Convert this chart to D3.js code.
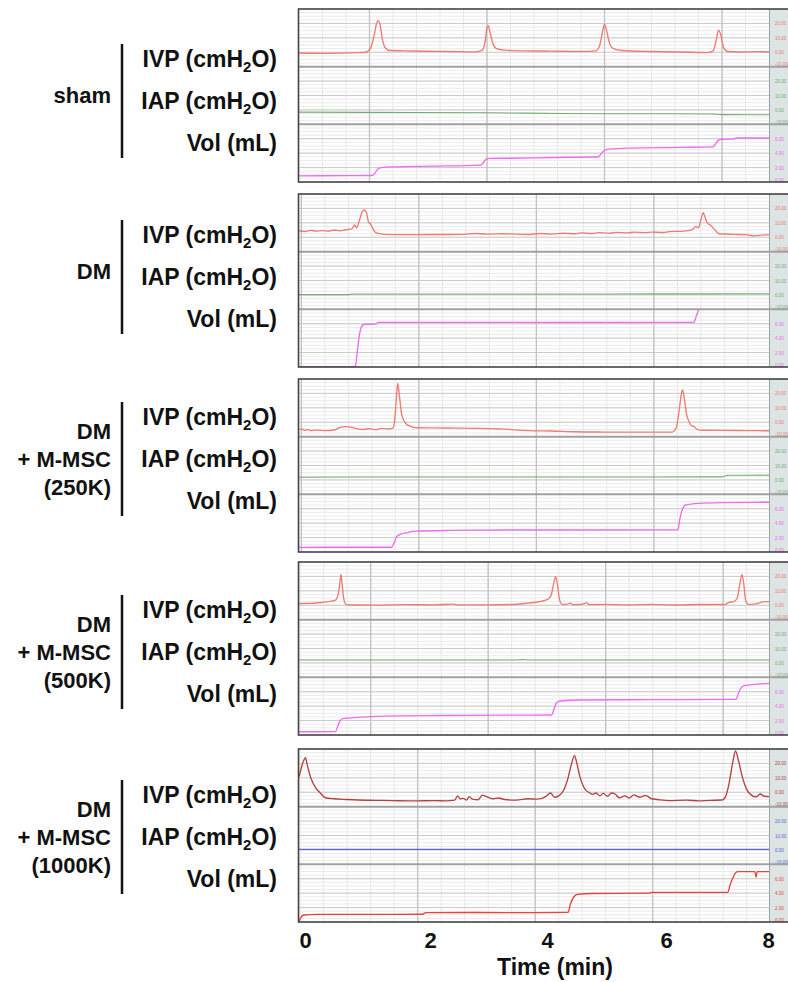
<!DOCTYPE html>
<html>
<head>
<meta charset="utf-8">
<script src="https://cdn.jsdelivr.net/npm/d3@7"></script>
<style>
  body { margin: 0; background: #fff; }
  svg { display: block; font-family: "Liberation Sans", Arial, sans-serif; }
</style>
</head>
<body>
<div id="chart-area"></div>
<script>
// ---- data: [time (min), value] ----
const groups = [["sham"], ["DM"], ["DM", "+ M-MSC", "(250K)"], ["DM", "+ M-MSC", "(500K)"], ["DM", "+ M-MSC", "(1000K)"]]
const timeTicks = [0, 2, 4, 6, 8]

const shamIVP = [[0,-0.5],[0.5,-0.8],[1.0,-0.3],[1.15,0.2],[1.22,3],[1.28,12],[1.32,20],[1.35,21.9],[1.38,19],[1.42,9],[1.47,3],[1.55,1.2],[1.8,1],[2.2,0.7],[2.6,0.5],[3.0,0.3],[3.12,1.5],[3.17,8],[3.2,17],[3.22,18.5],[3.25,14],[3.3,6],[3.36,2.5],[3.5,1.5],[3.8,1],[4.3,0.8],[4.8,0.6],[5.05,1],[5.12,5],[5.17,15],[5.2,19.4],[5.23,16],[5.28,7],[5.35,2.5],[5.5,1.2],[6,0.5],[6.5,0.2],[6.95,-0.3],[7.05,1],[7.1,8],[7.14,15.3],[7.18,12],[7.23,3],[7.3,0.5],[7.5,0.2],[7.8,0.4],[8,0.2]]
const shamIAP = [[0,-1.5],[1.2,-1.7],[3.3,-2.0],[4.5,-2.5],[7.0,-2.8],[7.2,-3.3],[8,-3.4]]
const shamVol = [[0,0.85],[0.8,0.88],[1.25,0.9],[1.3,1.3],[1.34,1.8],[1.4,2.0],[1.6,2.1],[2.2,2.2],[3.1,2.35],[3.13,2.6],[3.18,3.1],[3.25,3.27],[3.6,3.3],[4.3,3.4],[5.1,3.5],[5.14,3.9],[5.2,4.4],[5.28,4.55],[5.6,4.7],[6.5,4.8],[7.05,4.87],[7.09,5.3],[7.14,5.8],[7.2,5.93],[7.38,5.95],[7.45,6.11],[8,6.11]]

const dmIVP = [[0,4.5],[0.1,4.0],[0.2,4.8],[0.3,4.2],[0.4,4.6],[0.5,4.3],[0.6,5.0],[0.7,4.5],[0.8,5.2],[0.9,5.8],[0.95,8.5],[0.98,6.5],[1.03,12],[1.08,18],[1.11,18.9],[1.15,17],[1.18,11],[1.22,9],[1.27,5],[1.33,2.8],[1.45,2.0],[1.8,1.8],[2.3,1.9],[2.8,2.0],[3.0,2.6],[3.2,2.2],[3.5,2.4],[3.9,1.9],[4.1,2.6],[4.3,2.2],[4.5,2.8],[4.7,2.4],[4.8,3.0],[5.0,2.6],[5.1,3.2],[5.3,2.8],[5.4,3.4],[5.6,3.0],[5.7,3.6],[5.9,3.2],[6.0,3.6],[6.2,3.3],[6.3,3.9],[6.55,4.2],[6.7,5.5],[6.76,7.5],[6.8,6.5],[6.84,12],[6.88,17],[6.91,14],[6.95,10],[7.0,8.5],[7.08,5],[7.15,2.4],[7.4,2.0],[7.6,1.8],[7.75,1.0],[7.9,1.6],[8,1.8]]
const dmIAP = [[0,0.2],[0.85,0.2],[0.9,0.6],[3,0.6],[6,0.7],[8,0.8]]
const dmVol = [[0,0.05],[0.9,0.05],[0.96,0.1],[0.99,2],[1.02,4],[1.06,5.5],[1.1,5.9],[1.3,5.95],[1.35,6.2],[2.0,6.2],[4.5,6.18],[6.72,6.2],[6.76,7.0],[6.8,7.9]]

const m250IVP = [[0,-5.2],[0.05,-4.6],[0.1,-5.6],[0.15,-5.0],[0.2,-5.8],[0.3,-5.5],[0.45,-5.8],[0.6,-5.4],[0.7,-3.6],[0.8,-3.0],[0.9,-3.5],[1.0,-4.6],[1.1,-5.0],[1.2,-4.4],[1.3,-5.2],[1.4,-4.3],[1.52,-4.6],[1.6,-4.0],[1.63,2],[1.66,18],[1.68,27],[1.71,18],[1.75,5],[1.82,-1],[1.9,-2.8],[2.0,-3.8],[2.5,-4.0],[3.0,-4.2],[3.3,-4.4],[3.9,-5.8],[4.3,-6.1],[4.7,-6.6],[5.2,-6.8],[5.8,-6.9],[6.35,-6.8],[6.42,-4],[6.47,8],[6.51,20],[6.53,22.4],[6.56,16],[6.6,5],[6.64,0.4],[6.68,-2.5],[6.72,-2.8],[6.76,-4.5],[6.83,-5.5],[7.2,-5.6],[7.6,-5.8],[8,-5.9]]
const m250IAP = [[0,1.9],[2,2.0],[5,2.0],[7.2,2.1],[7.3,3.2],[8,3.3]]
const m250Vol = [[0,0.65],[0.8,0.66],[1.58,0.66],[1.62,1.3],[1.66,2.1],[1.72,2.45],[1.85,2.7],[2.0,2.9],[2.6,3.0],[3.5,3.05],[5.0,3.05],[6.45,3.07],[6.48,4.5],[6.53,6.0],[6.58,6.52],[6.8,6.75],[7.2,6.85],[8,6.9]]

const m500IVP = [[0,1.2],[0.2,1.3],[0.4,2.0],[0.55,2.8],[0.62,3.5],[0.67,8],[0.7,17],[0.715,21.4],[0.73,16],[0.76,5],[0.8,0.6],[0.9,0.2],[1.3,0.1],[1.8,0.4],[2.3,0.3],[2.6,0.8],[2.7,0.3],[3.2,0.3],[3.6,0.5],[3.9,1.5],[4.1,2.5],[4.25,4.5],[4.3,8],[4.34,16],[4.37,19.8],[4.4,14],[4.43,5],[4.47,0.8],[4.55,0.6],[4.62,1.5],[4.66,0.4],[4.8,0.5],[4.9,1.6],[4.94,0.4],[5.2,0.6],[5.6,0.3],[6.0,0.6],[6.4,0.2],[6.8,0.5],[7.25,0.6],[7.32,2.0],[7.4,2.5],[7.46,5],[7.5,14],[7.54,21.4],[7.57,15],[7.6,4],[7.64,0.8],[7.7,0.6],[7.8,1.2],[7.9,2.3],[8,2.5]]
const m500IAP = [[0,2.0],[3.7,2.0],[3.8,2.3],[3.9,2.0],[8,2.0]]
const m500Vol = [[0,0.45],[0.62,0.47],[0.66,1.2],[0.7,2.0],[0.76,2.3],[1.0,2.45],[1.7,2.65],[2.5,2.7],[3.5,2.75],[4.3,2.78],[4.34,3.6],[4.38,4.4],[4.44,4.72],[4.8,4.85],[6.0,4.9],[7.44,4.95],[7.48,5.8],[7.53,6.6],[7.58,6.84],[8,7.17]]

const m1000IVP = [[0,10.8],[0.04,17],[0.08,22],[0.11,24],[0.14,19],[0.2,10],[0.29,2.7],[0.35,0],[0.45,-3.8],[0.6,-4.5],[0.8,-5.0],[1.0,-5.4],[1.3,-5.6],[1.6,-5.8],[2.0,-6.0],[2.3,-5.8],[2.5,-6.0],[2.65,-5.5],[2.7,-2.5],[2.74,-4.5],[2.8,-4.3],[2.85,-5.5],[2.9,-3.0],[2.95,-4.8],[3.05,-5.2],[3.12,-2.0],[3.18,-2.8],[3.3,-4.5],[3.4,-4.0],[3.5,-5.0],[3.7,-5.5],[3.9,-4.5],[4.05,-4.8],[4.2,-3.0],[4.28,-0.5],[4.35,-3.5],[4.42,-2.5],[4.5,1],[4.58,10],[4.64,20],[4.69,25.4],[4.73,20],[4.78,11],[4.83,5],[4.88,1.5],[4.94,-0.2],[5.0,-1.5],[5.06,-0.5],[5.12,-2.5],[5.18,-0.8],[5.25,-2.8],[5.32,-0.5],[5.38,-1.2],[5.45,-3.8],[5.55,-2.5],[5.62,-4.0],[5.7,-1.8],[5.8,-3.5],[5.9,-2.2],[6.0,-4.5],[6.1,-5.0],[6.3,-5.8],[6.6,-5.5],[6.8,-6.0],[7.0,-5.6],[7.2,-5.4],[7.26,-3],[7.32,6],[7.38,20],[7.43,28.6],[7.48,22],[7.55,10],[7.62,2],[7.7,-2],[7.78,-3.2],[7.85,-1.2],[7.92,-2.8],[8,-3.0]]
const m1000IAP = [[0,0.4],[8,0.4]]
const m1000Vol = [[0,0.05],[0.03,0.6],[0.08,0.97],[0.3,1.05],[1.0,1.06],[2.1,1.08],[2.16,1.3],[3.0,1.32],[4.0,1.3],[4.58,1.33],[4.62,2.5],[4.68,3.5],[4.74,3.84],[5.0,3.95],[5.95,4.0],[6.0,4.1],[7.3,4.12],[7.34,5.2],[7.38,6.0],[7.42,6.7],[7.47,6.98],[7.76,6.98],[7.78,6.2],[7.8,6.98],[8,6.98]]

// first major vertical gridline of each recording (min)
const gridStart = [1.2, 0.04, 0.04, 1.22, 0.02]

const traces = [
  [shamIVP, shamIAP, shamVol],
  [dmIVP, dmIAP, dmVol],
  [m250IVP, m250IAP, m250Vol],
  [m500IVP, m500IAP, m500Vol],
  [m1000IVP, m1000IAP, m1000Vol]
]

// ---- layout ----
const WIDTH = 788, HEIGHT = 982
const PLOT = { LEFT: 299, RIGHT: 769, EDGE: 788 }
const PANEL_TOP = [9, 194, 379, 562, 749]
const PANEL_H = 173
const SUB_H = PANEL_H / 3
const LABEL_Y = [67, 243, 425, 618, 803]   // baseline of "IVP" label per panel
// the figure's time labels were placed by hand, not exactly on the grid
const TICK_X = [305, 430, 547, 666, 768]

const channels = [
  { name: "IVP", domain: [-10, 30], major: 10, minor: 2.5, ticks: [20, 10, 0, -10] },
  { name: "IAP", domain: [-10, 30], major: 10, minor: 2.5, ticks: [20, 10, 0, -10] },
  { name: "Vol", domain: [0, 8], major: 2, minor: 0.5, ticks: [6, 4, 2, 0] }
]
const normalColors = ["#ef7b72", "#72ad6c", "#ee6bee"]
const lastColors = ["#b5413f", "#5666dd", "#e8443c"]

const svg = d3.select("#chart-area").append("svg")
  .attr("width", WIDTH)
  .attr("height", HEIGHT)

const x = d3.scaleLinear().domain([0, 8]).range([PLOT.LEFT, PLOT.RIGHT])

traces.forEach((panel, i) => {
  const top = PANEL_TOP[i]
  const g = svg.append("g")
  const colors = i === 4 ? lastColors : normalColors

  g.append("clipPath").attr("id", "clip" + i)
    .append("rect")
    .attr("x", PLOT.LEFT).attr("y", top)
    .attr("width", PLOT.RIGHT - PLOT.LEFT).attr("height", PANEL_H)

  // vertical grid
  const minorT = d3.range(gridStart[i] - 2, 8.01, 0.4).filter(t => t > 0 && t < 8)
  const majorT = d3.range(gridStart[i], 8.01, 2).filter(t => t > 0.02 && t < 8)
  g.selectAll(".vminor").data(minorT).enter().append("line")
    .attr("x1", d => x(d)).attr("x2", d => x(d))
    .attr("y1", top).attr("y2", top + PANEL_H)
    .attr("stroke", "#e7e7e7").attr("stroke-width", 1)

  channels.forEach((ch, j) => {
    const subTop = top + j * SUB_H
    const y = d3.scaleLinear().domain(ch.domain).range([subTop + SUB_H, subTop])

    const minorY = d3.range(ch.domain[0] + ch.minor, ch.domain[1], ch.minor)
    g.selectAll(".hminor" + j).data(minorY).enter().append("line")
      .attr("x1", PLOT.LEFT).attr("x2", PLOT.RIGHT)
      .attr("y1", d => y(d)).attr("y2", d => y(d))
      .attr("stroke", "#ebebeb").attr("stroke-width", 1)

    const majorY = ch.ticks.filter(v => v > ch.domain[0])
    g.selectAll(".hmajor" + j).data(majorY).enter().append("line")
      .attr("x1", PLOT.LEFT).attr("x2", PLOT.RIGHT)
      .attr("y1", d => y(d)).attr("y2", d => y(d))
      .attr("stroke", "#cacaca").attr("stroke-width", 1)
  })

  g.selectAll(".vmajor").data(majorT).enter().append("line")
    .attr("x1", d => x(d)).attr("x2", d => x(d))
    .attr("y1", top).attr("y2", top + PANEL_H)
    .attr("stroke", "#c2c2c2").attr("stroke-width", 1.3)

  // traces
  channels.forEach((ch, j) => {
    const subTop = top + j * SUB_H
    const y = d3.scaleLinear().domain(ch.domain).range([subTop + SUB_H, subTop])
    const line = d3.line()
      .x(d => x(d[0]))
      .y(d => y(d[1]))
      .curve(d3.curveMonotoneX)
    g.append("path")
      .datum(panel[j])
      .attr("clip-path", `url(#clip${i})`)
      .attr("fill", "none")
      .attr("stroke", colors[j])
      .attr("stroke-width", j === 1 ? 1.1 : 1.35)
      .attr("d", line)
  })

  // right-hand scale strip
  g.append("rect")
    .attr("x", PLOT.RIGHT).attr("y", top)
    .attr("width", PLOT.EDGE - PLOT.RIGHT).attr("height", PANEL_H)
    .attr("fill", "#dce4e4")
  g.append("line")
    .attr("x1", PLOT.RIGHT + 0.5).attr("x2", PLOT.RIGHT + 0.5)
    .attr("y1", top).attr("y2", top + PANEL_H)
    .attr("stroke", "#9aa2a2")
  channels.forEach((ch, j) => {
    const subTop = top + j * SUB_H
    const y = d3.scaleLinear().domain(ch.domain).range([subTop + SUB_H, subTop])
    g.selectAll(".scale" + j).data(ch.ticks).enter().append("text")
      .attr("x", PLOT.RIGHT + 6)
      .attr("y", d => Math.min(y(d) + 2, subTop + SUB_H - 0.5))
      .attr("font-size", "4.5px")
      .attr("fill", colors[j])
      .text(d => d.toFixed(2))
  })

  // subpanel dividers and frame
  g.selectAll(".div").data([1, 2]).enter().append("line")
    .attr("x1", PLOT.LEFT - 1).attr("x2", PLOT.EDGE)
    .attr("y1", d => top + d * SUB_H).attr("y2", d => top + d * SUB_H)
    .attr("stroke", "#a0a0a0").attr("stroke-width", 2)
  g.append("rect")
    .attr("x", PLOT.LEFT - 0.5).attr("y", top)
    .attr("width", PLOT.EDGE - PLOT.LEFT + 10).attr("height", PANEL_H)
    .attr("fill", "none")
    .attr("stroke", "#444").attr("stroke-width", 1.6)

  // left labels
  const base = LABEL_Y[i]
  const labels = svg.append("g")
    .attr("font-weight", "bold")
    .attr("font-size", "22px")
    .attr("fill", "#111")
  ;[["IVP (cmH", "2", "O)"], ["IAP (cmH", "2", "O)"], ["Vol (mL)"]].forEach((parts, j) => {
    const t = labels.append("text")
      .attr("x", 277).attr("y", base + j * 42)
      .attr("font-size", "23px")
      .attr("text-anchor", "end")
    t.append("tspan").text(parts[0])
    if (parts.length > 1) {
      t.append("tspan").attr("font-size", "15px").attr("dy", 5).text(parts[1])
      t.append("tspan").attr("dy", -5).text(parts[2])
    }
  })
  labels.append("line")
    .attr("x1", 122).attr("x2", 122)
    .attr("y1", base - 23).attr("y2", base + 84 + 7)
    .attr("stroke", "#111").attr("stroke-width", 2.5)
  const lines = groups[i]
  const mid = base + 42
  lines.forEach((txt, k) => {
    labels.append("text")
      .attr("x", 111)
      .attr("y", lines.length === 1 ? mid - 6 : mid + (k - 1) * 28)
      .attr("text-anchor", "end")
      .text(txt)
  })
})

// X Axis
const axisScale = d3.scaleLinear().domain(timeTicks).range(TICK_X)
const xAxisCall = d3.axisBottom(axisScale)
  .tickValues(timeTicks)
  .tickSize(0)
  .tickPadding(10)
  .tickFormat(d3.format("d"))
const xAxis = svg.append("g")
  .attr("transform", `translate(0, ${PANEL_TOP[4] + PANEL_H})`)
  .call(xAxisCall)
xAxis.select(".domain").remove()
xAxis.selectAll("text")
  .attr("font-family", "'Liberation Sans', Arial, sans-serif")
  .attr("font-size", "22px")
  .attr("font-weight", "bold")
  .attr("fill", "#111")

svg.append("text")
  .attr("x", 555).attr("y", 975)
  .attr("text-anchor", "middle")
  .attr("font-size", "23px")
  .attr("font-weight", "bold")
  .attr("fill", "#111")
  .text("Time (min)")
</script>
</body>
</html>
